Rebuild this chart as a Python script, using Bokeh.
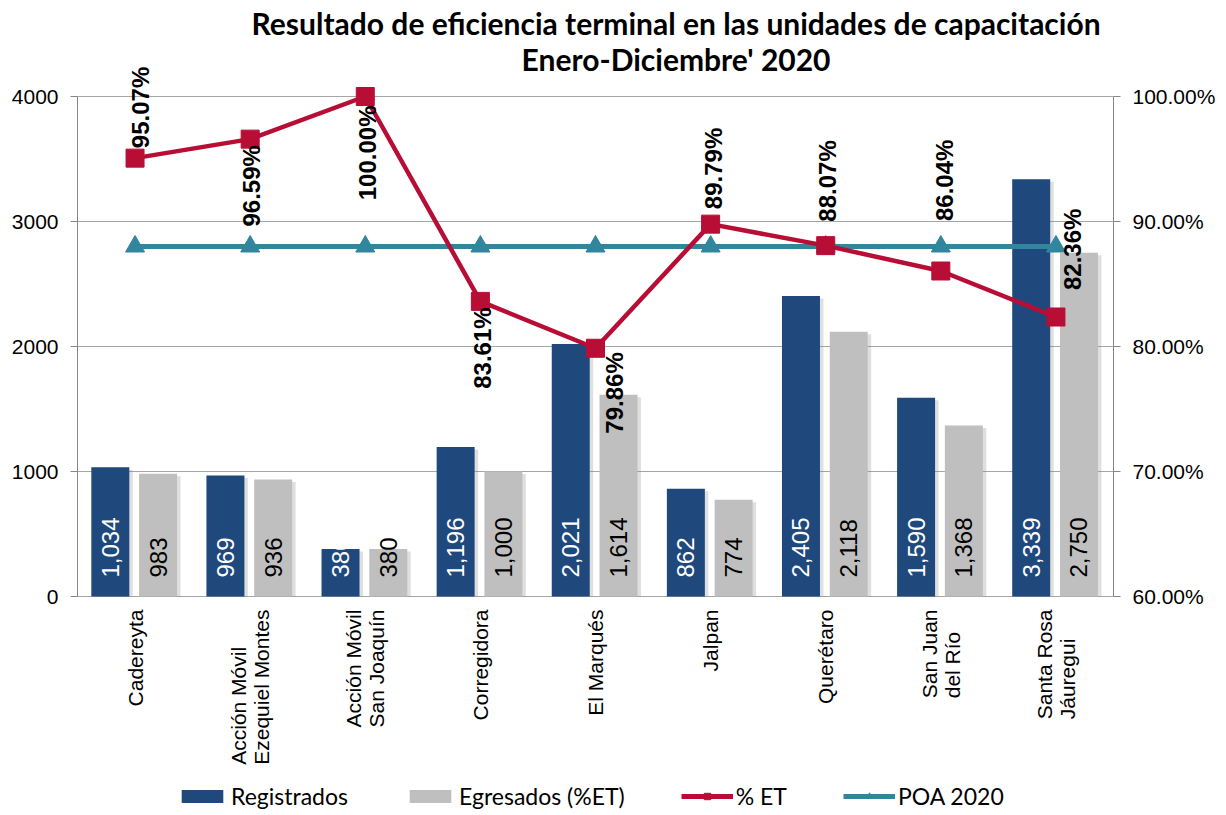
from math import pi
from bokeh.plotting import figure
from bokeh.models import (FactorRange, Range1d, LinearAxis, FixedTicker, PrintfTickFormatter,
                          ColumnDataSource, LabelSet, Label, Legend, LegendItem)
from bokeh.transform import dodge
from bokeh.core.properties import value
from bokeh.embed import file_html
from bokeh.resources import INLINE

# ---------------- data ----------------
categorias = ["Cadereyta", "Acción Móvil\nEzequiel Montes", "Acción Móvil\nSan Joaquín",
              "Corregidora", "El Marqués", "Jalpan", "Querétaro", "San Juan\ndel Río",
              "Santa Rosa\nJáuregui"]
registrados = [1034, 969, 380, 1196, 2021, 862, 2405, 1590, 3339]
egresados = [983, 936, 380, 1000, 1614, 774, 2118, 1368, 2750]
pct_et = [95.07, 96.59, 100.00, 83.61, 79.86, 89.79, 88.07, 86.04, 82.36]
poa_2020 = [88.0, 88.0, 88.0, 88.0, 88.0, 88.0, 88.0, 88.0, 88.0]
left_ticks = [0, 1000, 2000, 3000, 4000]
right_ticks = [60, 70, 80, 90, 100]
titulo = "Resultado de eficiencia terminal en las unidades de capacitación\nEnero-Diciembre' 2020"

# -------- layout / label placement (style only) --------
Y_MAX = 4000
PCT_MIN, PCT_MAX = 60, 100
TOP_ROOM = 96            # px of headroom above 4000 (title area inside the frame)
BOTTOM_ROOM = 218        # px below 0 (category labels + legend inside the frame)
PX_PER_UNIT = 500 / Y_MAX
PCT_PER_PX = (PCT_MAX - PCT_MIN) / 500
y_top = Y_MAX + TOP_ROOM / PX_PER_UNIT
y_bot = -BOTTOM_ROOM / PX_PER_UNIT
pct_top = PCT_MAX + TOP_ROOM * PCT_PER_PX
pct_bot = PCT_MIN - BOTTOM_ROOM * PCT_PER_PX
REG_OFF, EGR_OFF, BAR_W = -0.215, 0.2, 0.33

pct_side = ["above", "below", "below", "below", "below", "above", "above", "above", "above"]
pct_dx = [5, 1, 2, 2, 19, 3, 2, 4, 17]
pct_dy = [10, -6, -9, -6, -4, 15, 24, 50, 27]

BLUE = "#1F497D"
GRAY = "#BFBFBF"
RED = "#B80D35"
TEAL = "#31859C"
AXIS = "#868686"
NUMFONT = "Liberation Sans"

src = ColumnDataSource(dict(
    cat=categorias, reg=registrados, egr=egresados, pct=pct_et, poa=poa_2020,
    reg_sh=[v - 20 for v in registrados], egr_sh=[v - 20 for v in egresados],
    reg_lbl=[f"{v:,}" for v in registrados], egr_lbl=[f"{v:,}" for v in egresados],
    zero=[0] * len(categorias),
))

p = figure(x_range=FactorRange(*categorias, range_padding=0, factor_padding=0),
           y_range=Range1d(y_bot, y_top), frame_width=1036,
           frame_height=500 + TOP_ROOM + BOTTOM_ROOM,
           output_backend="svg", toolbar_location=None,
           min_border_left=77, min_border_right=112, min_border_top=0, min_border_bottom=0)
p.extra_y_ranges = {"pct": Range1d(pct_bot, pct_top)}
p.outline_line_color = None
p.background_fill_color = "white"
p.title.visible = False
p.xaxis.visible = False

# grid (the 0 line doubles as the category baseline)
p.xgrid.visible = False
p.ygrid.ticker = FixedTicker(ticks=left_ticks)
p.ygrid.grid_line_color = "#A6A6A6"
p.ygrid.grid_line_width = 1

# left axis
p.yaxis.ticker = FixedTicker(ticks=left_ticks)
p.yaxis.bounds = (0, Y_MAX)
p.yaxis.axis_line_color = AXIS
p.yaxis.major_tick_line_color = AXIS
p.yaxis.major_tick_out = 7
p.yaxis.major_tick_in = 0
p.yaxis.minor_tick_line_color = None
p.yaxis.major_label_text_font = NUMFONT
p.yaxis.major_label_text_font_size = "21px"
p.yaxis.major_label_text_color = "black"
p.yaxis.major_label_standoff = 12

# right axis
rax = LinearAxis(y_range_name="pct", ticker=FixedTicker(ticks=right_ticks),
                 bounds=(PCT_MIN, PCT_MAX), formatter=PrintfTickFormatter(format="%.2f%%"))
rax.axis_line_color = AXIS
rax.major_tick_line_color = AXIS
rax.major_tick_out = 7
rax.major_tick_in = 0
rax.minor_tick_line_color = None
rax.major_label_text_font = NUMFONT
rax.major_label_text_font_size = "21px"
rax.major_label_text_color = "black"
rax.major_label_standoff = 12
p.add_layout(rax, "right")

# shadows
p.vbar(x=dodge("cat", REG_OFF + 0.03, range=p.x_range), top="reg_sh", bottom="zero", width=BAR_W,
       source=src, fill_color="#808080", fill_alpha=0.25, line_color=None)
p.vbar(x=dodge("cat", EGR_OFF + 0.03, range=p.x_range), top="egr_sh", bottom="zero", width=BAR_W,
       source=src, fill_color="#808080", fill_alpha=0.25, line_color=None)
# bars
r_reg = p.vbar(x=dodge("cat", REG_OFF, range=p.x_range), top="reg", bottom="zero", width=BAR_W,
               source=src, fill_color=BLUE, line_color=None)
r_egr = p.vbar(x=dodge("cat", EGR_OFF, range=p.x_range), top="egr", bottom="zero", width=BAR_W,
               source=src, fill_color=GRAY, line_color=None)

# category labels (below the 0 line)
p.add_layout(LabelSet(x="cat", y="zero", text="cat", source=src, angle=pi / 2,
                      text_align="right", text_baseline="middle", y_offset=-13,
                      text_font=value(NUMFONT), text_font_size=value("21px"),
                      text_color="black", text_line_height=1.0))

# bar value labels
p.add_layout(LabelSet(x=dodge("cat", REG_OFF, range=p.x_range), y="zero", text="reg_lbl",
                      source=src, angle=pi / 2, text_align="left", text_baseline="middle",
                      y_offset=19, text_font=value(NUMFONT), text_font_size=value("24px"),
                      text_color="white"))
p.add_layout(LabelSet(x=dodge("cat", EGR_OFF, range=p.x_range), y="zero", text="egr_lbl",
                      source=src, angle=pi / 2, text_align="left", text_baseline="middle",
                      y_offset=19, text_font=value(NUMFONT), text_font_size=value("24px"),
                      text_color="black"))

# lines
p.line(x="cat", y="poa", source=src, y_range_name="pct", line_color=TEAL, line_width=5)
p.scatter(x="cat", y="poa", source=src, y_range_name="pct", marker="triangle", size=19,
          fill_color=TEAL, line_color=TEAL)
p.line(x="cat", y="pct", source=src, y_range_name="pct", line_color=RED, line_width=4.5)
p.scatter(x="cat", y="pct", source=src, y_range_name="pct", marker="square", size=18,
          fill_color=RED, line_color=RED)

# percentage labels
for side, align in (("above", "left"), ("below", "right")):
    idx = [i for i, s in enumerate(pct_side) if s == side]
    s2 = ColumnDataSource(dict(
        cat=[categorias[i] for i in idx], pct=[pct_et[i] for i in idx],
        lbl=[f"{pct_et[i]:.2f}%" for i in idx],
        dx=[pct_dx[i] for i in idx], dy=[pct_dy[i] for i in idx]))
    p.add_layout(LabelSet(x="cat", y="pct", y_range_name="pct", text="lbl", source=s2,
                          angle=pi / 2, text_align=align, text_baseline="middle",
                          x_offset="dx", y_offset="dy",
                          text_font=value(NUMFONT), text_font_size=value("24px"),
                          text_font_style="bold", text_color="black"))

# title (inside the frame's headroom)
p.add_layout(Label(x=5.2, y=Y_MAX + 56 / PX_PER_UNIT, text=titulo, text_align="center",
                   text_baseline="middle", text_font="Lato", text_font_size="30px",
                   text_font_style="bold", text_color="black", text_line_height=1.0))

# legend (hidden dummy renderers with NaN data for smaller legend markers)
nan = float("nan")
lg_red_l = p.line(x=[categorias[0]], y=[nan], line_color=RED, line_width=5)
lg_red_m = p.scatter(x=[categorias[0]], y=[nan], marker="square", size=11,
                     fill_color=RED, line_color=RED)
lg_teal_l = p.line(x=[categorias[0]], y=[nan], line_color=TEAL, line_width=5)
lg_teal_m = p.scatter(x=[categorias[0]], y=[nan], marker="triangle", size=12,
                      fill_color=TEAL, line_color=TEAL)
legend = Legend(items=[
    LegendItem(label="Registrados", renderers=[r_reg]),
    LegendItem(label="Egresados (%ET)", renderers=[r_egr]),
    LegendItem(label="% ET", renderers=[lg_red_l, lg_red_m]),
    LegendItem(label="POA 2020", renderers=[lg_teal_l, lg_teal_m]),
], orientation="horizontal", location=(99, 4), label_text_font="Lato",
    label_text_font_size="23px", label_text_color="black", glyph_width=52, glyph_height=16,
    spacing=56, label_standoff=3, border_line_color=None, background_fill_alpha=0,
    padding=0, margin=0)
p.add_layout(legend)

open("out.html", "w").write(file_html(p, INLINE))
